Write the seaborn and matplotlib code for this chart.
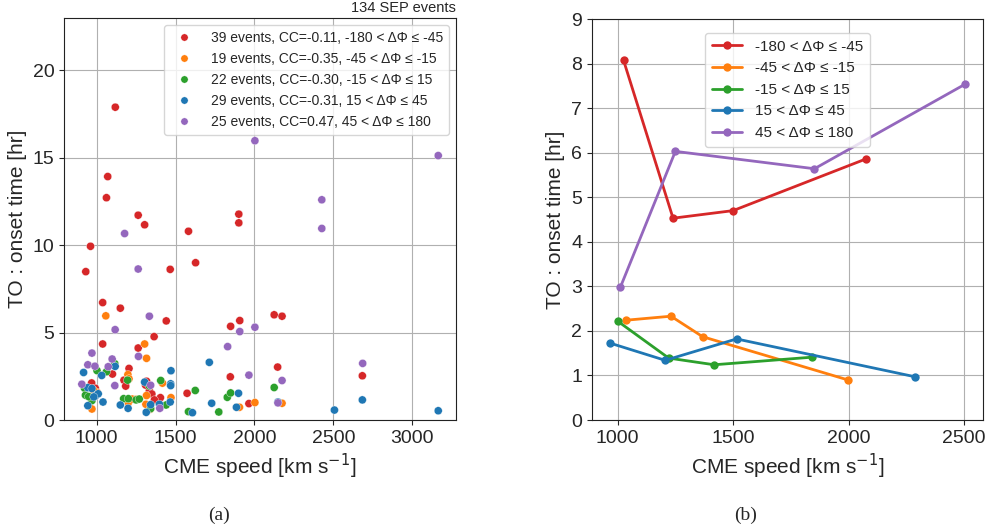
import numpy as np
import pandas as pd
import matplotlib
matplotlib.use('Agg')
import matplotlib.pyplot as plt
import seaborn as sns

#------------------------------------------------
# bins of longitude separation
l_rng=['-180 < ΔΦ ≤ -45', '-45 < ΔΦ ≤ -15', '-15 < ΔΦ ≤ 15', '15 < ΔΦ ≤ 45', '45 < ΔΦ ≤ 180']
l_cc=['-0.11', '-0.35', '-0.30', '-0.31', '0.47']
l_color=['#d62728', '#ff7f0e', '#2ca02c', '#1f77b4', '#9467bd']

# (a) individual events: CME speed, onset time
spd_1=[1118, 1070, 1062, 1263, 1304, 1582, 1901, 1901, 961, 1627, 931, 1466, 1038, 1150, 2125, 2175,
       1441, 1907, 1849, 1364, 1038, 1263, 2147, 1205, 2684, 1847, 1100, 968, 1173, 1316, 991, 1184,
       1334, 1350, 1404, 1366, 1573, 1965, 1310]
to_1=[17.9, 13.93, 12.72, 11.72, 11.17, 10.8, 11.78, 11.28, 9.94, 9.0, 8.49, 8.62, 6.72, 6.4, 6.02, 5.94,
      5.67, 5.69, 5.36, 4.77, 4.35, 4.12, 3.03, 2.95, 2.53, 2.47, 2.63, 2.12, 2.28, 2.22, 1.82, 1.94,
      1.67, 1.49, 1.28, 1.15, 1.53, 0.94, 2.0]
spd_2=[1058, 1304, 1316, 1198, 1205, 1417, 1004, 1316, 1471, 1201, 1250, 970, 1905, 2003, 2175, 1312,
       1340, 1225, 980]
to_2=[5.96, 4.35, 3.53, 2.6, 2.36, 2.11, 1.57, 1.4, 1.28, 1.0, 1.18, 0.63, 0.73, 1.0, 0.96, 0.9,
      0.62, 1.2, 1.7]
spd_3=[1002, 1062, 1115, 1196, 1406, 1334, 923, 929, 970, 1171, 1201, 1250, 1270, 1342, 1440, 1582,
       1625, 1774, 1828, 1849, 2125, 949]
to_3=[2.83, 2.76, 3.22, 2.28, 2.26, 1.95, 1.82, 1.42, 1.11, 1.22, 1.22, 1.15, 1.2, 0.65, 0.86, 0.48,
      1.69, 0.46, 1.3, 1.55, 1.86, 1.34]
spd_4=[917, 1032, 1117, 1714, 1471, 1304, 1469, 1469, 944, 970, 995, 1010, 982, 1040, 1150, 1199,
       1314, 1342, 1466, 944, 1607, 1729, 1886, 1899, 2149, 2507, 2684, 3165, 1398]
to_4=[2.72, 2.55, 3.07, 3.3, 2.82, 2.17, 2.07, 1.97, 1.85, 1.8, 1.4, 1.5, 1.32, 1.03, 0.86, 0.67,
      0.44, 0.88, 1.03, 0.82, 0.42, 0.96, 0.73, 1.53, 1.03, 0.57, 1.15, 0.53, 0.9]
spd_5=[2003, 3165, 2427, 2427, 1177, 1263, 1334, 1117, 1907, 2003, 1830, 970, 1265, 2686, 1098, 944,
       989, 1073, 2175, 1965, 906, 1115, 1342, 2149, 1400]
to_5=[15.98, 15.13, 12.6, 10.96, 10.67, 8.64, 5.94, 5.17, 5.06, 5.31, 4.2, 3.83, 3.64, 3.24, 3.49, 3.16,
      3.08, 3.05, 2.26, 2.57, 2.05, 1.97, 1.99, 0.98, 0.67]

# (b) binned means
bspd_1=[1026, 1240, 1500, 2075]
bto_1=[8.07, 4.53, 4.70, 5.86]
bspd_2=[1036, 1231, 1368, 1997]
bto_2=[2.24, 2.33, 1.87, 0.90]
bspd_3=[1000, 1221, 1418, 1841]
bto_3=[2.22, 1.39, 1.24, 1.41]
bspd_4=[965, 1206, 1515, 2288]
bto_4=[1.73, 1.34, 1.82, 0.97]
bspd_5=[1012, 1250, 1852, 2505]
bto_5=[2.98, 6.03, 5.64, 7.54]

##########################################################
l_spd=[spd_1, spd_2, spd_3, spd_4, spd_5]
l_to=[to_1, to_2, to_3, to_4, to_5]
l_bspd=[bspd_1, bspd_2, bspd_3, bspd_4, bspd_5]
l_bto=[bto_1, bto_2, bto_3, bto_4, bto_5]

l_lab=[f'{len(s)} events, CC={c}, {r}' for s, c, r in zip(l_spd, l_cc, l_rng)]
df_a=pd.concat([pd.DataFrame({'spd': s, 'to': t, 'grp': lab}) for s, t, lab in zip(l_spd, l_to, l_lab)])
df_b=pd.concat([pd.DataFrame({'spd': s, 'to': t, 'grp': r}) for s, t, r in zip(l_bspd, l_bto, l_rng)])

sns.set_style('ticks')
plt.rcParams['font.family']=['Liberation Sans', 'DejaVu Sans']
plt.rcParams['axes.edgecolor']='#222222'

fig=plt.figure(figsize=(9.91, 5.32), dpi=100)
ax1=fig.add_axes([0.0646, 0.2105, 0.3956, 0.7556])
ax2=fig.add_axes([0.5971, 0.2105, 0.3949, 0.7537])

#------------------------------------------------
# (a) scatter
sns.scatterplot(data=df_a, x='spd', y='to', hue='grp', palette=l_color, s=34,
                edgecolor='white', linewidth=0.25, ax=ax1, zorder=3)
ax1.set_ylim(0, 23)
ax1.set_xticks([1000, 1500, 2000, 2500, 3000])
ax1.set_yticks([0, 5, 10, 15, 20])
ax1.legend(loc='upper right', fontsize=10, markerscale=0.9, handletextpad=0.9, borderpad=0.45,
           labelspacing=0.5, framealpha=0.8)
ax1.text(1.0, 1.008, '134 SEP events', transform=ax1.transAxes, ha='right', va='bottom', fontsize=10.5)

#------------------------------------------------
# (b) lines
sns.lineplot(data=df_b, x='spd', y='to', hue='grp', palette=l_color, marker='o', markersize=6,
             markeredgecolor='none', linewidth=2, estimator=None, sort=False, ax=ax2)
ax2.set_ylim(0, 9)
ax2.set_xticks([1000, 1500, 2000, 2500])
ax2.set_yticks(range(10))
ax2.legend(loc='upper center', bbox_to_anchor=(0.5, 0.985), fontsize=11, handlelength=2.0,
           borderpad=0.45, labelspacing=0.5, framealpha=0.8)

for ax in [ax1, ax2]:
    ax.grid(True, color='#b0b0b0', linewidth=0.8)
    ax.set_axisbelow(True)
    ax.tick_params(labelsize=14)
    ax.set_xlabel('CME speed [km s$^{-1}$]', fontsize=15)
    ax.set_ylabel('TO : onset time [hr]', fontsize=15)

fig.text(0.221, 0.032, '(a)', ha='center', va='center', fontsize=14, family='Liberation Serif')
fig.text(0.752, 0.032, '(b)', ha='center', va='center', fontsize=14, family='Liberation Serif')

plt.savefig('out.png', dpi=100)
plt.close()
